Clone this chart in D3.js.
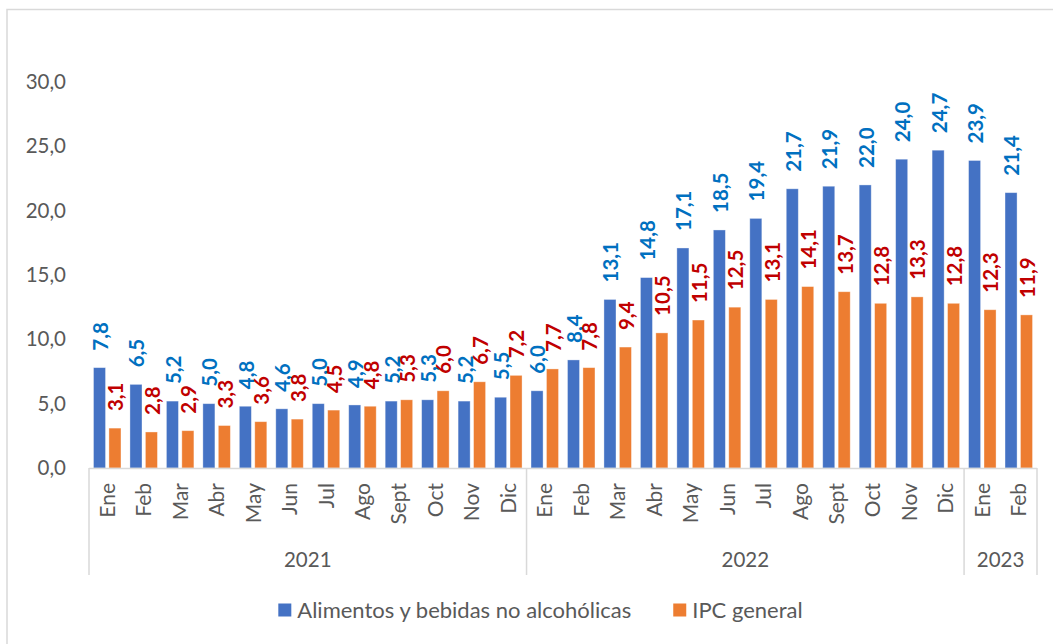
<!DOCTYPE html>
<html>
<head>
<meta charset="utf-8">
<script src="https://d3js.org/d3.v7.min.js"></script>
<style>
  body { margin: 0; background: #fff; }
  text { font-family: Lato, "Open Sans", sans-serif; }
</style>
</head>
<body>
<svg id="chart" width="1053" height="644"></svg>
<script>
// months and years
const months = ['Ene','Feb','Mar','Abr','May','Jun','Jul','Ago','Sept','Oct','Nov','Dic',
                'Ene','Feb','Mar','Abr','May','Jun','Jul','Ago','Sept','Oct','Nov','Dic',
                'Ene','Feb'];
const years = [
  {label: '2021', n: 12},
  {label: '2022', n: 12},
  {label: '2023', n: 2}
];
// series (variación anual %)
const alimentos = [7.8, 6.5, 5.2, 5.0, 4.8, 4.6, 5.0, 4.9, 5.2, 5.3, 5.2, 5.5,
                   6.0, 8.4, 13.1, 14.8, 17.1, 18.5, 19.4, 21.7, 21.9, 22.0, 24.0, 24.7,
                   23.9, 21.4];
const ipc = [3.1, 2.8, 2.9, 3.3, 3.6, 3.8, 4.5, 4.8, 5.3, 6.0, 6.7, 7.2,
             7.7, 7.8, 9.4, 10.5, 11.5, 12.5, 13.1, 14.1, 13.7, 12.8, 13.3, 12.8,
             12.3, 11.9];
const yTicks = [0, 5, 10, 15, 20, 25, 30];
const seriesNames = ['Alimentos y bebidas no alcohólicas', 'IPC general'];

const svg = d3.select('#chart');
const plotL = 89, plotR = 1037, plotT = 82, plotB = 468;
const axisColor = '#595959', lineColor = '#D9D9D9';
const barColors = ['#4472C4', '#ED7D31'];
const labelColors = ['#0070C0', '#C00000'];

const loc = d3.formatLocale({decimal: ',', thousands: '.', grouping: [3], currency: ['', '']});
const fmt = loc.format('.1f');

// outer frame
svg.append('rect')
  .attr('x', 7).attr('y', 9.5).attr('width', 1100).attr('height', 700)
  .attr('fill', 'none').attr('stroke', lineColor).attr('stroke-width', 1.5);

const idx = d3.range(months.length);
const x0 = d3.scaleBand().domain(idx).range([plotL, plotR]).paddingInner(0.246).paddingOuter(0.123);
const x1 = d3.scaleBand().domain([0, 1]).range([0, x0.bandwidth()]).paddingInner(0.22);
const y = d3.scaleLinear().domain([0, 30]).range([plotB, plotT]);
const step = (plotR - plotL) / months.length;

// y axis labels
const yAxis = svg.append('g')
  .attr('transform', `translate(66,0)`)
  .call(d3.axisLeft(y).tickValues(yTicks).tickFormat(fmt).tickSize(0).tickPadding(0));
yAxis.select('.domain').remove();
yAxis.selectAll('text').attr('fill', axisColor).attr('font-size', 20.5);

// bars
const series = [alimentos, ipc];
series.forEach((vals, s) => {
  svg.append('g').selectAll('rect').data(vals).join('rect')
    .attr('x', (d, i) => x0(i) + x1(s))
    .attr('y', d => y(d))
    .attr('width', x1.bandwidth())
    .attr('height', d => y(0) - y(d))
    .attr('fill', barColors[s])
    .attr('stroke', '#ffffff').attr('stroke-opacity', 0.45).attr('stroke-width', 0.8);

  svg.append('g').selectAll('text').data(vals).join('text')
    .attr('transform', (d, i) => `translate(${x0(i) + x1(s) + x1.bandwidth() / 2 + 1},${y(d) - 17}) rotate(-90)`)
    .attr('dy', '0.36em')
    .attr('fill', labelColors[s])
    .attr('font-size', 20.5)
    .attr('font-weight', 'bold')
    .text(d => fmt(d));
});

// category axis
const cat = svg.append('g');
cat.append('line')
  .attr('x1', plotL).attr('x2', plotR).attr('y1', plotB + 0.5).attr('y2', plotB + 0.5)
  .attr('stroke', lineColor).attr('stroke-width', 1.5);

cat.selectAll('text.month').data(months).join('text')
  .attr('class', 'month')
  .attr('transform', (d, i) => `translate(${plotL + step * (i + 0.5)},483) rotate(-90)`)
  .attr('text-anchor', 'end')
  .attr('dy', '0.36em')
  .attr('fill', axisColor)
  .attr('font-size', 21)
  .text(d => d);

let start = 0;
const seps = [0];
years.forEach(yr => {
  const a = plotL + step * start, b = plotL + step * (start + yr.n);
  cat.append('text')
    .attr('x', (a + b) / 2).attr('y', 560)
    .attr('dy', '0.36em')
    .attr('text-anchor', 'middle')
    .attr('fill', axisColor)
    .attr('font-size', 20.5)
    .text(yr.label);
  start += yr.n;
  seps.push(start);
});
cat.selectAll('line.sep').data(seps).join('line')
  .attr('class', 'sep')
  .attr('x1', d => plotL + step * d).attr('x2', d => plotL + step * d)
  .attr('y1', plotB).attr('y2', 575)
  .attr('stroke', lineColor).attr('stroke-width', 1.5);

// legend
const leg = svg.append('g');
let lx = 0;
seriesNames.forEach((name, s) => {
  const g = leg.append('g').attr('transform', `translate(${lx},0)`);
  g.append('rect').attr('x', 0).attr('y', -6.5).attr('width', 13).attr('height', 13).attr('fill', barColors[s]);
  const t = g.append('text').attr('x', 19).attr('dy', '0.36em')
    .attr('fill', axisColor).attr('font-size', 22).text(name);
  lx += 19 + t.node().getComputedTextLength() + 42;
});
const legW = lx - 42;
leg.attr('transform', `translate(${540.5 - legW / 2},610)`);
</script>
</body>
</html>
